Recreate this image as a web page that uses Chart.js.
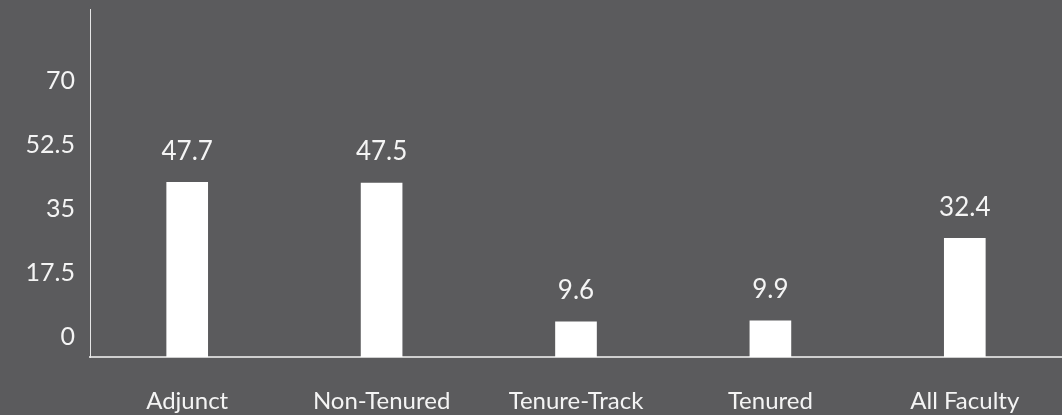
<!DOCTYPE html>
<html>
<head>
<meta charset="utf-8">
<script src="https://cdn.jsdelivr.net/npm/chart.js@4.4.1/dist/chart.umd.min.js"></script>
<style>
    html, body { margin: 0; padding: 0; background: #5b5b5d; }
    #wrap { width: 1062px; height: 415px; position: relative; }
</style>
</head>
<body>
<div id="wrap"><canvas id="facultyChart"></canvas></div>
<script>
"use strict";

const categories = ["Adjunct", "Non-Tenured", "Tenure-Track", "Tenured", "All Faculty"];
const values = [47.7, 47.5, 9.6, 9.9, 32.4];
const valueLabels = ["47.7", "47.5", "9.6", "9.9", "32.4"];
const yTicks = [0, 17.5, 35, 52.5, 70];

const textColor = "#f4f4f4";
const fontFamily = "Lato, 'Open Sans', sans-serif";

// draws the number above every bar
const barValuePlugin = {
    id: "barValues",
    afterDatasetsDraw(chart) {
        const ctx = chart.ctx;
        const meta = chart.getDatasetMeta(0);

        ctx.save();
        ctx.fillStyle = textColor;
        ctx.font = `normal 26px ${fontFamily}`;
        ctx.textAlign = "center";
        ctx.textBaseline = "bottom";

        meta.data.forEach((bar, i) => {
            ctx.fillText(valueLabels[i], bar.x, bar.y - 18);
        });

        ctx.restore();
    }
};

document.addEventListener("DOMContentLoaded", () => {
    const ctx = document.getElementById("facultyChart");

    new Chart(ctx, {
        type: "bar",
        data: {
            labels: categories,
            datasets: [
                {
                    data: values,
                    backgroundColor: "#ffffff",
                    borderWidth: 0,
                    barThickness: 41
                }
            ]
        },
        options: {
            responsive: true,
            maintainAspectRatio: false,
            animation: false,
            layout: {
                padding: { top: 9, left: 0, right: 0, bottom: 0 }
            },
            plugins: {
                legend: { display: false },
                tooltip: { enabled: false }
            },
            scales: {
                x: {
                    grid: { display: false },
                    border: { display: true, color: "#cfcfcf", width: 2 },
                    ticks: {
                        color: textColor,
                        padding: 22,
                        maxRotation: 0,
                        font: { family: fontFamily, size: 24 }
                    },
                    afterFit(scale) {
                        scale.height = 58;
                        scale.paddingLeft = 0;
                        scale.paddingRight = 0;
                    }
                },
                y: {
                    min: 0,
                    max: 95,
                    afterBuildTicks(scale) {
                        scale.ticks = yTicks.map(v => ({ value: v }));
                    },
                    grid: { display: false },
                    border: { display: true, color: "#e6e6e6", width: 1 },
                    ticks: {
                        color: textColor,
                        padding: 7,
                        labelOffset: -20,
                        font: { family: fontFamily, size: 25 },
                        callback: value => String(value)
                    },
                    afterFit(scale) {
                        scale.width = 90;
                        scale.paddingTop = 0;
                        scale.paddingBottom = 0;
                    }
                }
            }
        },
        plugins: [barValuePlugin]
    });
});
</script>
</body>
</html>
